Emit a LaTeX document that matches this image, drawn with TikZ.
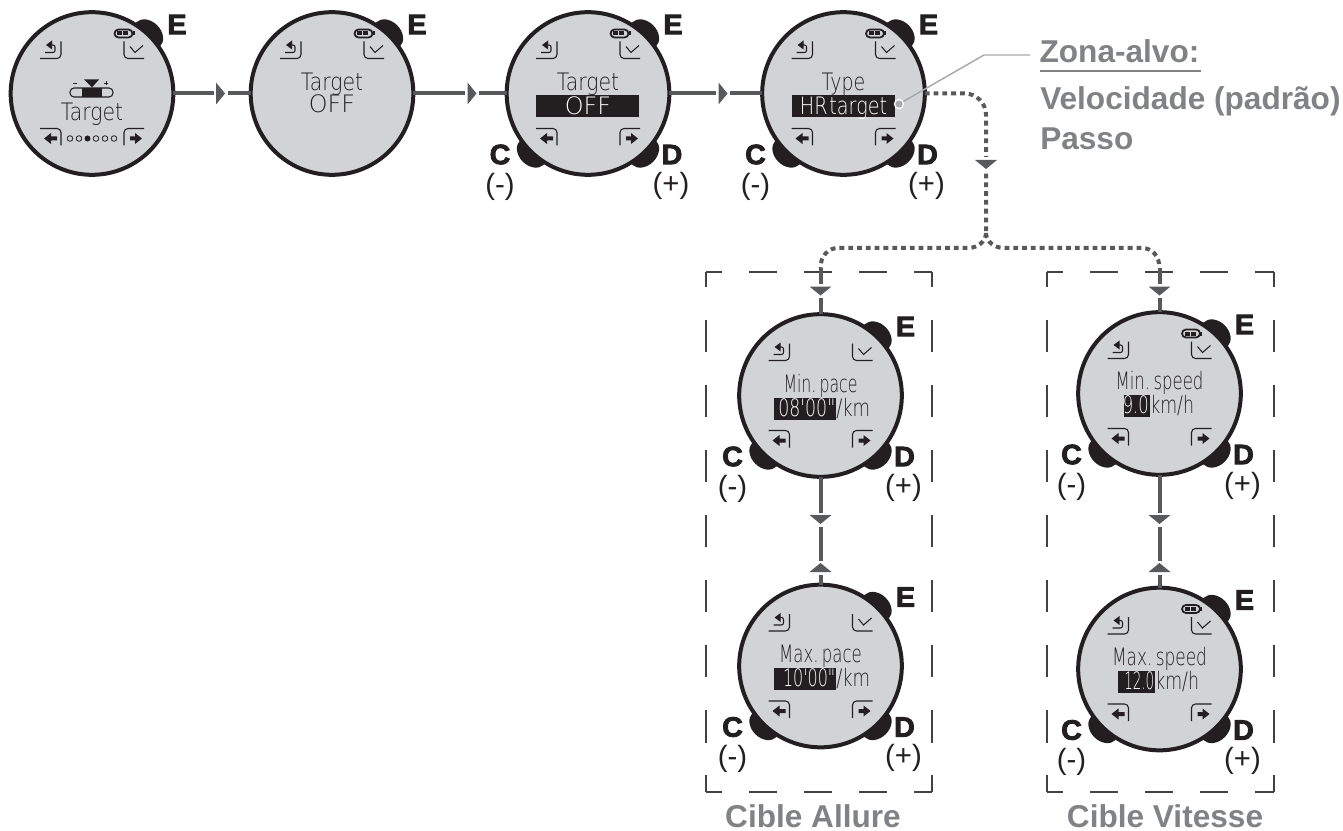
\documentclass[tikz,border=0pt]{standalone}
\usepackage{fontspec}
\setmainfont{Liberation Sans}
\newfontfamily\lcd[FakeStretch=0.85,WordSpace=0.3]{DejaVu Sans ExtraLight}
\newfontfamily\heavy[FakeBold=3,FakeStretch=1.02]{Liberation Sans Bold}
\definecolor{ink}{HTML}{231F20}
\definecolor{facegray}{HTML}{D1D3D4}
\definecolor{linegray}{HTML}{58595B}
\definecolor{leadgray}{HTML}{A7A9AC}
\definecolor{capgray}{HTML}{808285}
\newcommand\lx[2]{\scalebox{#1}[1]{#2}}
\tikzset{
 x=0.75pt,y=-0.75pt,
 facenode/.style={circle,draw=ink,fill=facegray,line width=3pt,minimum size=122pt,inner sep=0pt,outer sep=0pt},
 blob/.style={fill=ink,draw=none},
 iconline/.style={draw=ink,line width=0.8pt,rounded corners=3pt},
 lcdtext/.style={font=\lcd\fontsize{18}{18}\selectfont,text=ink,inner sep=0pt,anchor=base},
 lcdwhite/.style={lcdtext,text=white},
 keylab/.style={font=\heavy\fontsize{21}{21}\selectfont,text=ink,inner sep=0pt},
 signlab/.style={font=\fontsize{22}{22}\selectfont,text=ink,inner sep=0pt},
 flowline/.style={draw=linegray,line width=3pt},
 dotline/.style={draw=linegray,line width=3pt,dash pattern=on 3.6pt off 3pt},
 boxedge/.style={draw=ink!85!white,line width=1.1pt},
 capt/.style={font=\bfseries\fontsize{23.7}{24}\selectfont,text=capgray,inner sep=0pt,anchor=base},
}
\newcommand\flowtri[3]{\begin{scope}[shift={(#1,#2)},rotate=#3]
 \fill[white](-7,-3.2)rectangle(7,3.2);
 \fill[linegray](-4.5,-11)--(4.5,0)--(-4.5,11)--cycle;
\end{scope}}
\newcommand\battery{%
 \draw[draw=ink,line width=1.3pt,rounded corners=3pt](22.5,-64)rectangle(40.5,-56);
 \fill[ink](40.5,-62)rectangle(42.5,-58);
 \fill[ink](25,-62)rectangle(30,-58);\fill[ink](31,-62)rectangle(36,-58);}
\newcommand\lowicons{%
 \draw[iconline](-52,35)--(-31,35)--(-31,52);
 \draw[iconline](32,52)--(32,35)--(52,35);
 \fill[ink](-48,45)--(-41,39.5)--(-41,43)--(-35,43)--(-35,47)--(-41,47)--(-41,50.5)--cycle;
 \fill[ink](50,45)--(43,39.5)--(43,43)--(38,43)--(38,47)--(43,47)--(43,50.5)--cycle;}
% name, x, y, C/D buttons (0/1), contents
\newcommand\watch[5]{\begin{scope}[shift={(#2,#3)}]
 \begin{scope}[shift={(56,-59)},rotate=-45]\fill[blob](0,0)ellipse[x radius=17,y radius=13];\end{scope}
 \ifnum#4=1
  \begin{scope}[shift={(-56,59)},rotate=-45]\fill[blob](0,0)ellipse[x radius=17,y radius=13];\end{scope}
  \begin{scope}[shift={(56,59)},rotate=45]\fill[blob](0,0)ellipse[x radius=17,y radius=13];\end{scope}
 \fi
 \node[facenode] (#1) at (0,0) {};
 \node[keylab] (#1-e) at (85,-69) {E};
 \ifnum#4=1
  \node[keylab] (#1-c) at (-88,61) {C};
  \node[keylab] (#1-d) at (84,61) {D};
  \node[signlab] (#1-m) at (-88,93) {(-)};
  \node[signlab] (#1-p) at (83,92) {(+)};
 \fi
 \draw[iconline](-52,-35)--(-31,-35)--(-31,-52);
 \draw[draw=ink,line width=0.8pt,rounded corners=1.5pt](-45,-48.5)--(-37,-48.5)--(-37,-41)--(-47,-41);
 \fill[ink](-46,-48.5)--(-40,-53)--(-40,-44)--cycle;
 \draw[iconline](32,-52)--(32,-35)--(52,-35);
 \draw[draw=ink,line width=0.8pt](38,-47)--(43,-41)--(51,-48);
 #5
\end{scope}}
\begin{document}
\begin{tikzpicture}
\useasboundingbox (0,0) rectangle (1343,831);
\coordinate (boxA1) at (706,272); \coordinate (boxA2) at (932,272);
\coordinate (boxA3) at (932,792); \coordinate (boxA4) at (706,792);
\coordinate (boxB1) at (1047,272); \coordinate (boxB2) at (1274,272);
\coordinate (boxB3) at (1274,792); \coordinate (boxB4) at (1047,792);
\foreach \p/\q in {boxA1/boxA2,boxA4/boxA3,boxB1/boxB2,boxB4/boxB3}
 \draw[boxedge,dash pattern=on 20.6pt off 20.6pt,dash phase=8.6pt] (\p)--(\q);
\foreach \p/\q in {boxA1/boxA4,boxA2/boxA3,boxB1/boxB4,boxB2/boxB3}
 \draw[boxedge,dash pattern=on 24.4pt off 24.4pt,dash phase=13.1pt] (\p)--(\q);

\watch{w1}{92}{93.5}{0}{\battery\lowicons
 \node[lcdtext] (w1-t) at (0,27) {Target};
 \draw[ink,line width=0.8pt,rounded corners=3pt](-22,-5.5)rectangle(21,3.5);
 \fill[ink](-10,-5.5)rectangle(10,3.5);
 \fill[ink](-8,-14)--(7,-14)--(0,-6)--cycle;
 \draw[ink,line width=0.6pt](-19,-10.5)--(-15,-10.5) (12,-10.5)--(16,-10.5) (14,-12.5)--(14,-8.5);
 \foreach \d/\f in {-22/0,-13/0,-4.5/1,4/0,13/0,22/0}{
  \ifnum\f=1 \fill[ink](\d,45)circle[radius=3];
  \else \draw[ink,line width=0.6pt](\d,45)circle[radius=2.8];\fi}
}
\watch{w2}{332}{93.5}{0}{\battery
 \node[lcdtext] (w2-t) at (0,-3) {Target};
 \node[lcdtext] (w2-v) at (0,19) {\lx{1.17}{OFF}};
}
\watch{w3}{588}{93.5}{1}{\battery\lowicons
 \node[lcdtext] (w3-t) at (0,-3) {Target};
 \fill[ink](-52,1.5)rectangle(51,23.5);
 \node[lcdwhite] (w3-v) at (0,21) {\lx{1.17}{OFF}};
}
\watch{w4}{843.5}{93.5}{1}{\battery\lowicons
 \node[lcdtext] (w4-t) at (0,-3) {\lx{.93}{Type}};
 \fill[ink](-51.5,1.5)rectangle(51.5,23.5);
 \node[lcdwhite] (w4-v) at (0,21) {\lx{.94}{HR target}};
}
\watch{w5}{820.5}{395.5}{1}{\lowicons
 \node[lcdtext] (w5-t) at (0,-3) {\lx{.77}{Min. pace}};
 \fill[ink](-46.5,2.5)rectangle(15.5,24.5);
 \node[lcdwhite,anchor=base east] (w5-v) at (15,21) {\lx{.85}{08'00"}};
 \node[lcdtext,anchor=base west] (w5-u) at (15.5,21) {\lx{.88}{/km}};
}
\watch{w6}{1159.5}{393.5}{1}{\battery\lowicons
 \node[lcdtext] (w6-t) at (0,-4) {\lx{.81}{Min. speed}};
 \fill[ink](-35.5,1.5)rectangle(-9.5,23.5);
 \node[lcdwhite,anchor=base east] (w6-v) at (-10.5,20) {\lx{.8}{9.0}};
 \node[lcdtext,anchor=base west] (w6-u) at (-9.5,20) {\lx{.85}{km/h}};
}
\watch{w7}{820.5}{666}{1}{\lowicons
 \node[lcdtext] (w7-t) at (0,-4) {\lx{.81}{Max. pace}};
 \fill[ink](-46.5,2)rectangle(15.5,24);
 \node[lcdwhite,anchor=base east] (w7-v) at (15,20.5) {\lx{.78}{10'00"}};
 \node[lcdtext,anchor=base west] (w7-u) at (15.5,20.5) {\lx{.88}{/km}};
}
\watch{w8}{1159.5}{669}{1}{\battery\lowicons
 \node[lcdtext] (w8-t) at (0,-4) {\lx{.83}{Max. speed}};
 \fill[ink](-41.5,2)rectangle(-4.5,24);
 \node[lcdwhite,anchor=base east] (w8-v) at (-5,20.5) {\lx{.66}{12.0}};
 \node[lcdtext,anchor=base west] (w8-u) at (-4.5,20.5) {\lx{.85}{km/h}};
}

\draw[flowline] (w1)--(w2); \flowtri{220.5}{93.5}{0}
\draw[flowline] (w2)--(w3); \flowtri{472}{93.5}{0}
\draw[flowline] (w3)--(w4); \flowtri{723}{93.5}{0}

\coordinate (split) at (986,233);
\coordinate (inA) at (820.5,268);
\coordinate (inB) at (1159.5,268);
\draw[dotline,rounded corners=16pt] (w4.east)-|(split);
\draw[dotline] (split)..controls (986,241) and (978,248)..(968,248)--(838,248)..controls (828,248) and (820.5,256)..(inA);
\draw[dotline] (split)..controls (986,241) and (994,248)..(1004,248)--(1142,248)..controls (1152,248) and (1159.5,256)..(inB);
\flowtri{986}{164.5}{-90}
\draw[flowline] (inA)--(w5); \flowtri{820.5}{291}{-90}
\draw[flowline] (inB)--(w6); \flowtri{1159.5}{291}{-90}
\draw[flowline] (w5)--(w7); \flowtri{820.5}{519.5}{-90} \flowtri{820.5}{567.5}{90}
\draw[flowline] (w6)--(w8); \flowtri{1159.5}{519.5}{-90} \flowtri{1159.5}{567.5}{90}

\node[capt] (zona) at (1119.5,63) {Zona-alvo:};
\coordinate (zonaend) at (1030,55);
\coordinate (knee) at (984,55);
\coordinate (pin) at (899,104);
\draw[leadgray,line width=1.1pt] (pin)--(knee)--(zonaend);
\fill[leadgray,draw=white,line width=1pt] (pin) circle[radius=4.5];
\draw[capgray,line width=1.1pt] (1040,71)--(1201,71);
\node[capt,anchor=base west] (vel) at (1040,110) {Velocidade (padrão)};
\node[capt,anchor=base west] (pas) at (1040,150) {Passo};
\node[capt] (capA) at (813,827) {Cible Allure};
\node[capt] (capB) at (1165,827) {Cible Vitesse};
\end{tikzpicture}
\end{document}
